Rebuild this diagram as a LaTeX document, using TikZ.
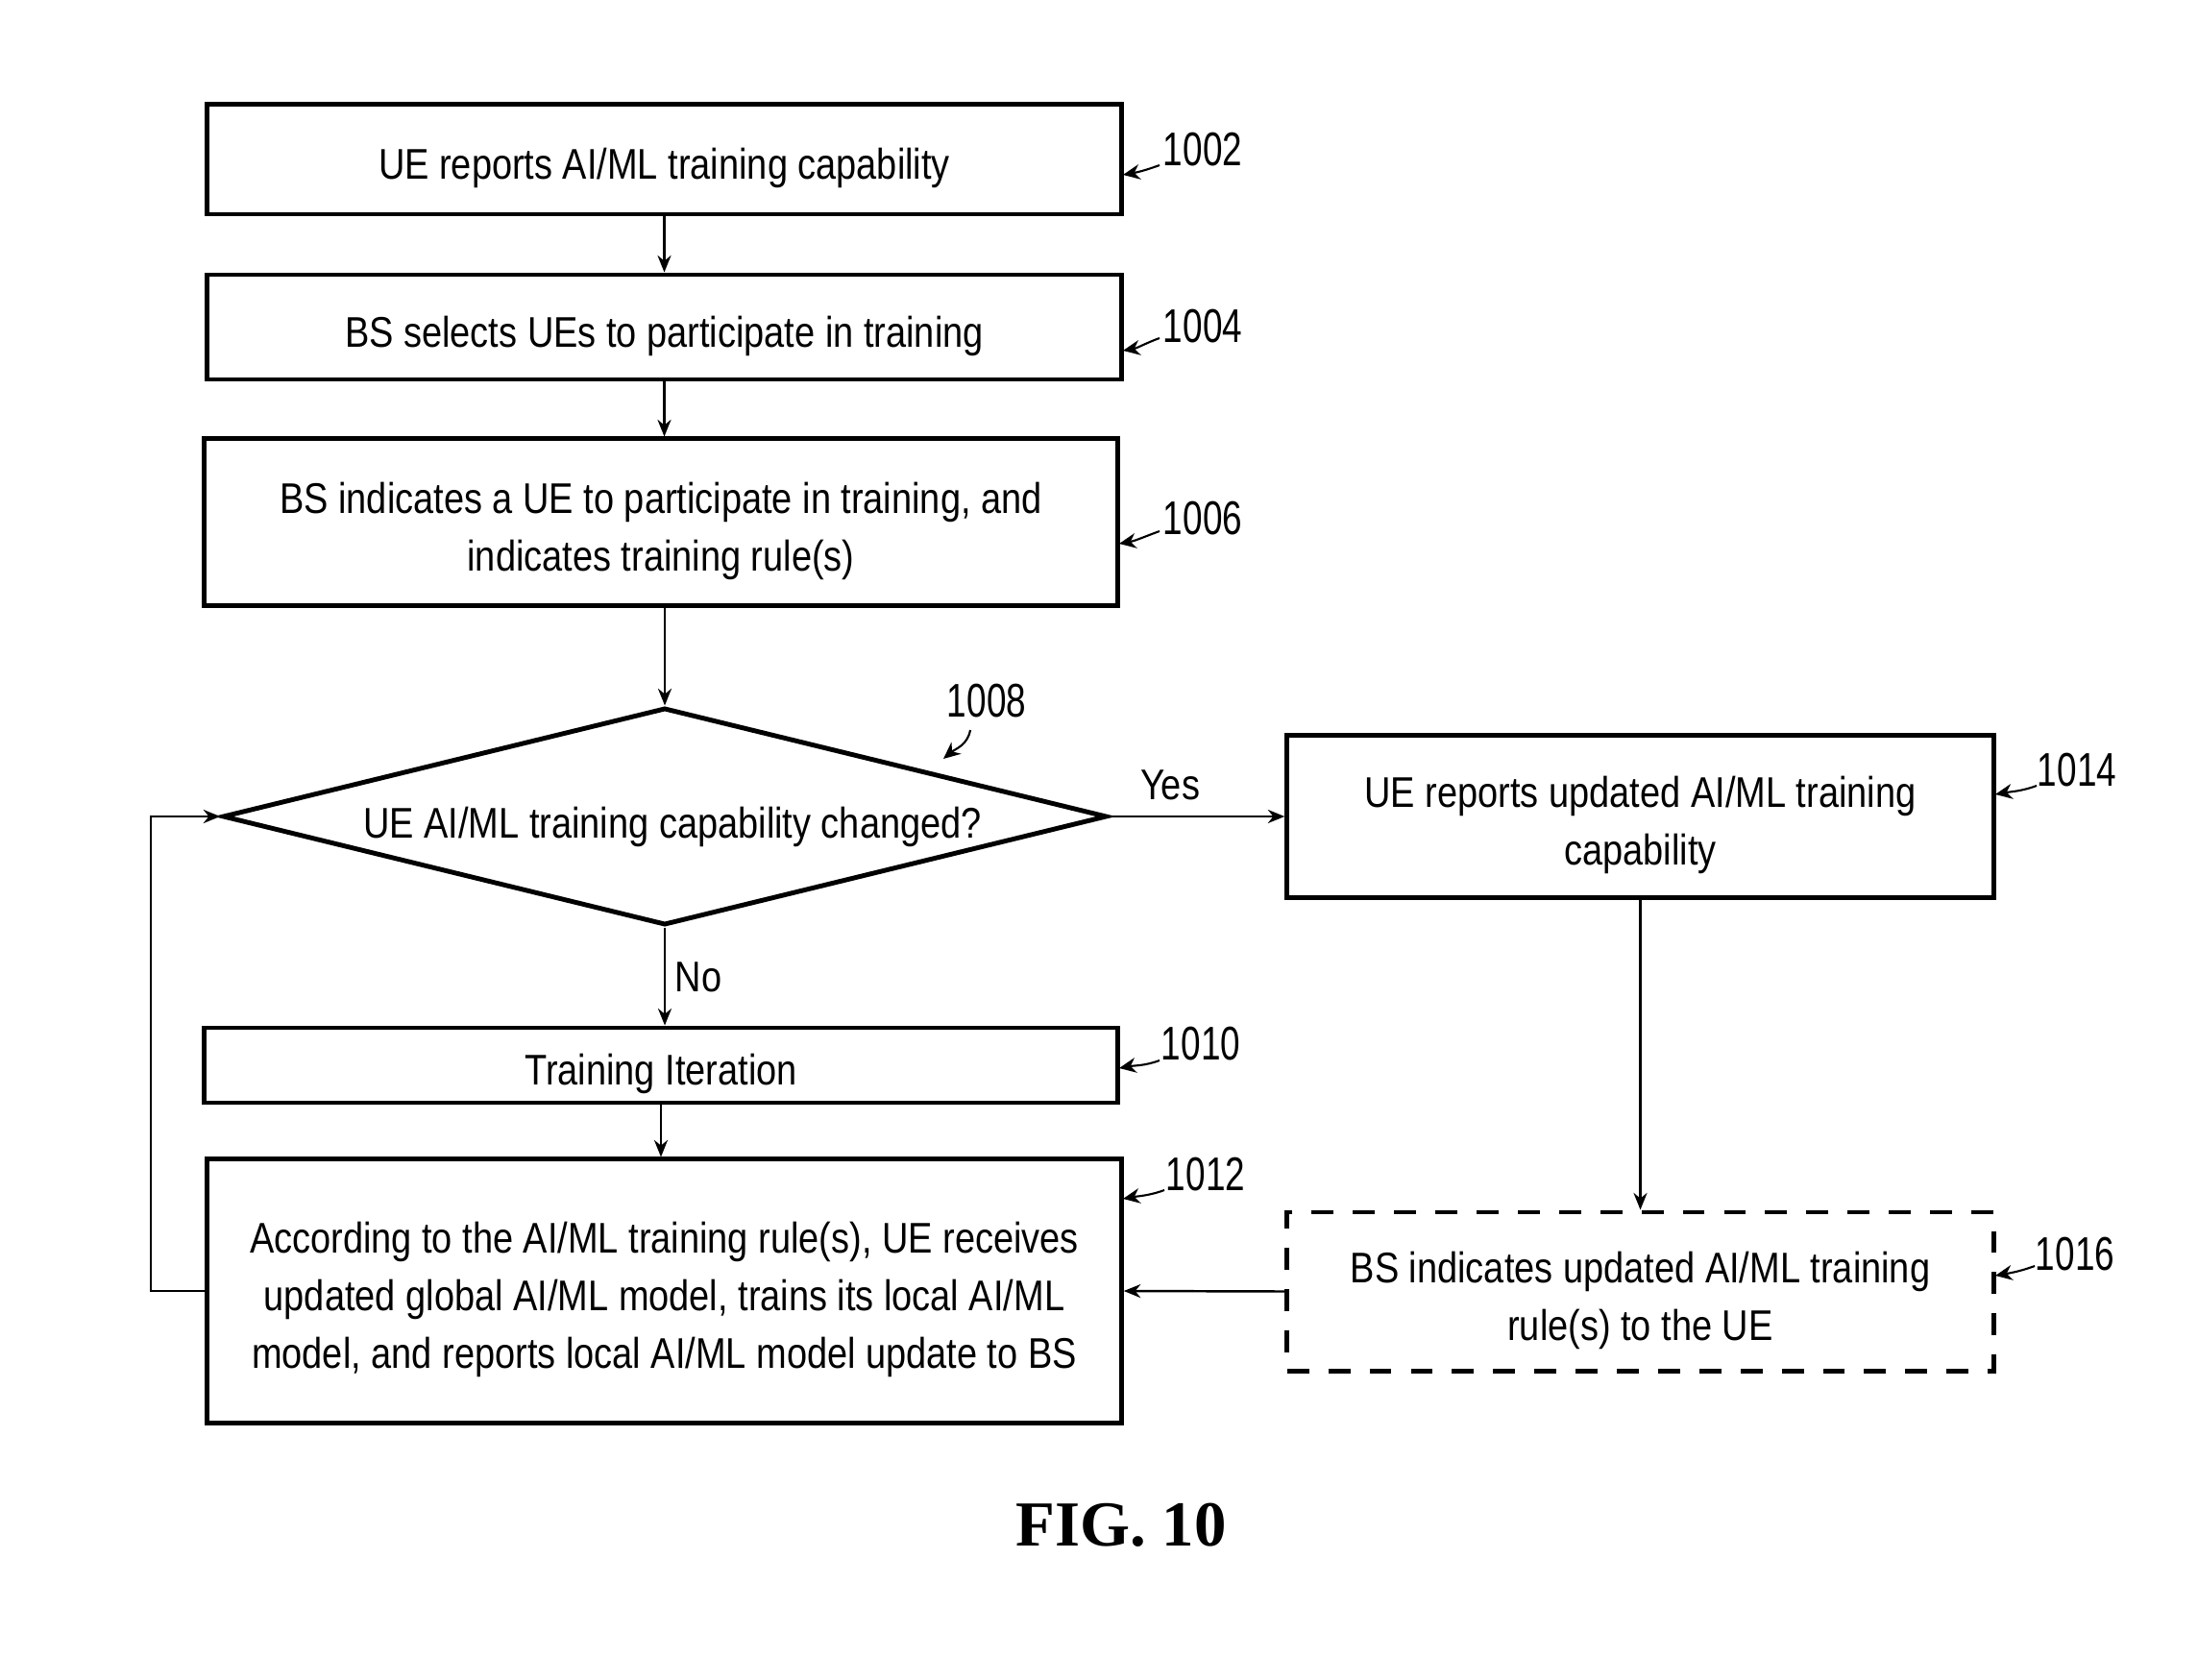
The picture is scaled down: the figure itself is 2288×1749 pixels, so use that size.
\documentclass[tikz,border=0pt]{standalone}
\usepackage{fontspec}
\setmainfont{Liberation Sans}[FakeStretch=0.85]
\newfontfamily\numfont{Liberation Sans}[FakeStretch=0.75]
\newfontfamily\figfont{Liberation Serif}
\usetikzlibrary{shapes.geometric,arrows.meta}
\tikzset{
  box/.style={draw, line width=1.4pt, inner sep=0pt},
  dbox/.style={box, dash pattern=on 6.5pt off 5.7pt},
  txt/.style={align=center, inner sep=0pt, yshift=-2.6pt, font=\fontsize{12.7}{17}\selectfont},
  conn/.style={line width=0.7pt, -{Stealth[length=5pt,width=4pt]}},
  lead/.style={line width=0.6pt, -{Stealth[length=5pt,width=4.5pt]}},
  num/.style={font=\numfont\fontsize{14}{16}\selectfont, inner sep=0pt},
  lbl/.style={font=\fontsize{12.7}{17}\selectfont, inner sep=0pt}
}
\begin{document}
\begin{tikzpicture}[x=0.01cm,y=-0.01cm]
\useasboundingbox[fill=white] (0,0) rectangle (2288,1749);

\node[box, minimum width=9.51cm, minimum height=1.14cm] (b1002) at (691.5,166) {};
\node[txt] (x1002) at (b1002.center) {UE reports AI/ML training capability};
\node[box, minimum width=9.51cm, minimum height=1.09cm] (b1004) at (691.5,340.5) {};
\node[txt] (x1004) at (b1004.center) {BS selects UEs to participate in training};
\node[box, minimum width=9.50cm, minimum height=1.73cm] (b1006) at (688,543.5) {};
\node[txt] (x1006) at (b1006.center) {BS indicates a UE to participate in training, and\\indicates training rule(s)};
\node[draw, diamond, line width=1.4pt, inner sep=0pt, aspect=4.07, minimum width=9.2cm, minimum height=2.26cm] (d) at (692,850) {};
\node[txt] (dtext) at (700,852) {UE AI/ML training capability changed?};
\node[box, minimum width=7.35cm, minimum height=1.68cm] (b1014) at (1707.5,850) {};
\node[txt] (x1014) at (b1014.center) {UE reports updated AI/ML training\\capability};
\node[box, minimum width=9.50cm, minimum height=0.78cm] (b1010) at (688,1109) {};
\node[txt] (x1010) at (b1010.center) {Training Iteration};
\node[box, minimum width=9.51cm, minimum height=2.74cm] (b1012) at (691.5,1344) {};
\node[txt] (x1012) at (b1012.center) {According to the AI/ML training rule(s), UE receives\\updated global AI/ML model, trains its local AI/ML\\model, and reports local AI/ML model update to BS};
\node[dbox, minimum width=7.35cm, minimum height=1.65cm] (b1016) at (1707.5,1344.5) {};
\node[txt] (x1016) at (b1016.center) {BS indicates updated AI/ML training\\rule(s) to the UE};

\draw[conn] (b1002.south) -- (b1002.south |- b1004.north);
\draw[conn] (b1004.south) -- (b1004.south |- b1006.north);
\draw[conn] (d.north |- b1006.south) -- (d.north);
\draw[conn] (d.east) -- (b1014.west);
\draw[conn] (d.south) -- (d.south |- b1010.north);
\draw[conn] (b1010.south) -- (b1010.south |- b1012.north);
\draw[conn] (b1014.south) -- (b1016.north);
\draw[conn] (b1016.west) -- (b1012.east);
\draw[conn] (b1012.west) -- ++(-56,0) |- (d.west);

\node[lbl] (yes) at (1218,817) {Yes};
\node[lbl] (no) at (727,1017) {No};

% reference numerals
\node[num] (n1002) at (1252,156) {1002};
\coordinate (t1002) at (1207,172); \coordinate (h1002) at (1169,182);
\draw[lead] (t1002) to[out=200,in=10] (h1002);
\node[num] (n1004) at (1252,340) {1004};
\coordinate (t1004) at (1207,352); \coordinate (h1004) at (1169,365);
\draw[lead] (t1004) to[out=200,in=10] (h1004);
\node[num] (n1006) at (1252,540) {1006};
\coordinate (t1006) at (1207,553); \coordinate (h1006) at (1165,566);
\draw[lead] (t1006) to[out=200,in=10] (h1006);
\node[num] (n1008) at (1027,730) {1008};
\coordinate (t1008) at (1010,760); \coordinate (h1008) at (982,790);
\draw[lead] (t1008) to[out=260,in=40] (h1008);
\node[num] (n1010) at (1250,1087) {1010};
\coordinate (t1010) at (1207,1104); \coordinate (h1010) at (1165,1112);
\draw[lead] (t1010) to[out=200,in=10] (h1010);
\node[num] (n1012) at (1255,1223) {1012};
\coordinate (t1012) at (1212,1239); \coordinate (h1012) at (1169,1248);
\draw[lead] (t1012) to[out=200,in=10] (h1012);
\node[num] (n1014) at (2162,802) {1014};
\coordinate (t1014) at (2120,818); \coordinate (h1014) at (2077,827);
\draw[lead] (t1014) to[out=200,in=10] (h1014);
\node[num] (n1016) at (2160,1306) {1016};
\coordinate (t1016) at (2118,1318); \coordinate (h1016) at (2077,1328);
\draw[lead] (t1016) to[out=200,in=10] (h1016);

\node[font=\figfont\bfseries\fontsize{19}{22}\selectfont, inner sep=0pt] (fig) at (1167,1588) {FIG. 10};
\end{tikzpicture}
\end{document}
